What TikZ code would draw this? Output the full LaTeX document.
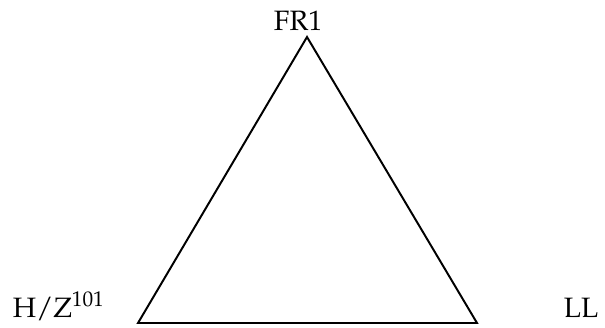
\documentclass[tikz,border=0pt]{standalone}
\usepackage[T1]{fontenc}
\usepackage{mathpazo}
\begin{document}
\begin{tikzpicture}[x=0.357pt, y=-0.357pt, line width=0.7pt,
    etiqueta/.style={inner sep=0pt, anchor=base west}]
    % marco
    \useasboundingbox (0,0) rectangle (605,327);

    % vertices del triangulo
    \coordinate (top) at (307,37);
    \coordinate (left) at (138,323);
    \coordinate (right) at (477,323);

    % etiquetas
    \node[etiqueta] (fr) at (273,31) {FR1};
    \node[etiqueta] (hz) at (12,317) {H/Z$^{101}$};
    \node[etiqueta] (ll) at (563,317) {LL};

    % triangulo
    \draw (top) -- (left) -- (right) -- cycle;
\end{tikzpicture}
\end{document}
